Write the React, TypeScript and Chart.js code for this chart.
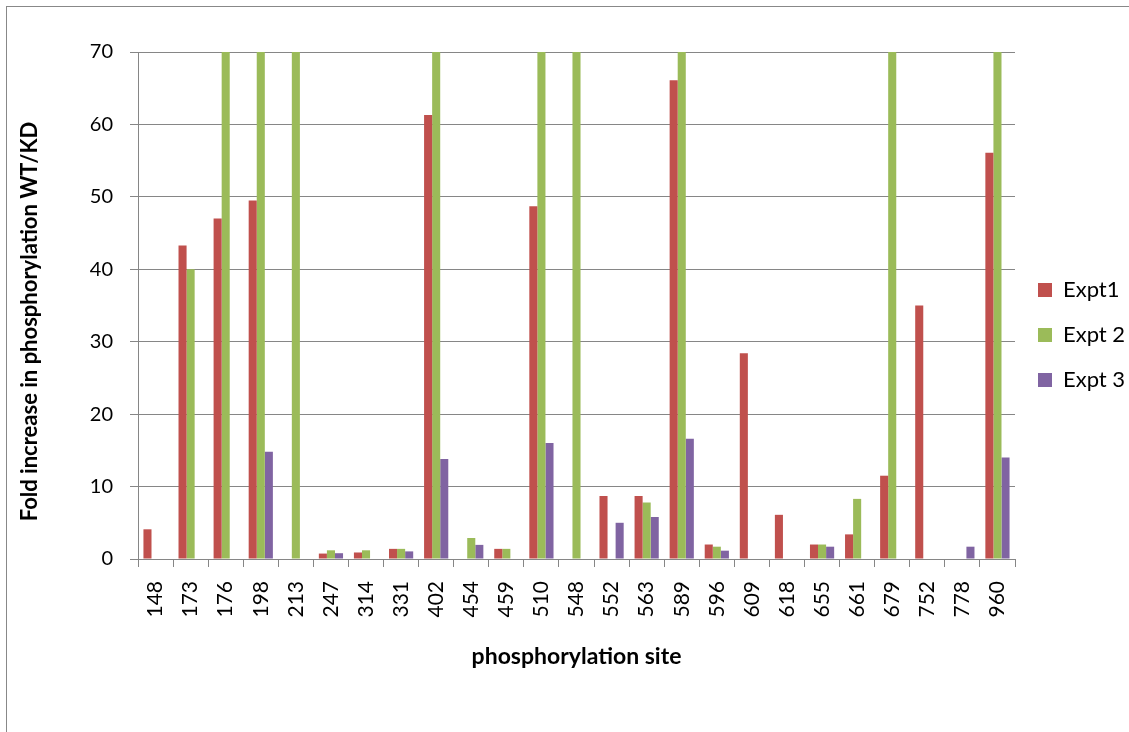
import React, { useEffect, useRef } from "react";
import { Chart, registerables } from "chart.js";

Chart.register(...registerables);

const sites = ["148", "173", "176", "198", "213", "247", "314", "331", "402", "454", "459", "510", "548", "552", "563", "589", "596", "609", "618", "655", "661", "679", "752", "778", "960"];
const expt1 = [4.1, 43.3, 47.0, 49.5, null, 0.75, 0.9, 1.4, 61.3, null, 1.4, 48.7, null, 8.7, 8.7, 66.1, 2.0, 28.4, 6.1, 2.0, 3.4, 11.5, 35.0, null, 56.1];
const expt2 = [null, 40.0, 70, 70, 70, 1.2, 1.2, 1.4, 70, 2.9, 1.4, 70, 70, null, 7.8, 70, 1.7, null, null, 2.0, 8.3, 70, null, null, 70];
const expt3 = [null, null, null, 14.8, null, 0.8, null, 1.05, 13.8, 1.95, null, 16.0, null, 5.0, 5.8, 16.6, 1.15, null, null, 1.7, null, null, null, 1.7, 14.0];
const seriesNames = ["Expt1", "Expt 2", "Expt 3"];
const seriesColors = ["#C0504D", "#9BBB59", "#8064A2"];
const yTicks = [0, 10, 20, 30, 40, 50, 60, 70];

const FONT = "Lato, 'Open Sans', sans-serif";
const GRID = "#868686";

export default function App() {
  const ref = useRef<HTMLCanvasElement | null>(null);
  useEffect(() => {
    if (!ref.current) return;
    const chart = new Chart(ref.current, {
      type: "bar",
      data: {
        labels: sites,
        datasets: [expt1, expt2, expt3].map((d, i) => ({
          label: seriesNames[i],
          data: d,
          backgroundColor: seriesColors[i],
          borderWidth: 0,
          categoryPercentage: 0.69,
          barPercentage: 1,
        })),
      },
      options: {
        animation: false,
        responsive: false,
        maintainAspectRatio: false,
        layout: { padding: 0 },
        plugins: {
          title: {
            display: true,
            text: " ",
            font: { family: FONT, size: 18 },
            padding: { top: 0, bottom: 30.4 },
          },
          tooltip: { enabled: false },
          legend: {
            position: "right",
            align: "center",
            maxWidth: 114,
            labels: {
              boxWidth: 14,
              boxHeight: 14,
              padding: 23,
              color: "#000",
              font: { family: FONT, size: 22 },
            },
          },
        },
        scales: {
          x: {
            grid: {
              display: true,
              drawOnChartArea: false,
              drawTicks: true,
              tickLength: 8,
              color: GRID,
              offset: true,
            },
            border: { color: GRID, width: 1 },
            ticks: {
              autoSkip: false,
              minRotation: 90,
              maxRotation: 90,
              padding: 14,
              color: "#000",
              font: { family: FONT, size: 21 },
            },
            title: {
              display: true,
              text: "phosphorylation site",
              color: "#000",
              font: { family: FONT, size: 23, weight: "bold" },
              padding: { top: 4, bottom: 0 },
            },
            afterFit: (scale: any) => {
              scale.height = 111;
            },
          },
          y: {
            min: 0,
            max: 70,
            afterBuildTicks: (scale: any) => {
              scale.ticks = yTicks.map((v) => ({ value: v }));
            },
            grid: { color: GRID, tickLength: 8, lineWidth: 1 },
            border: { color: GRID, width: 1 },
            ticks: {
              padding: 17,
              color: "#000",
              font: { family: FONT, size: 20 },
            },
            title: {
              display: true,
              text: "Fold increase in phosphorylation WT/KD      ",
              color: "#000",
              font: { family: FONT, size: 22, weight: "bold" },
              padding: { top: 17, bottom: 0 },
            },
            afterFit: (scale: any) => {
              scale.width = 138;
            },
          },
        },
      },
    });
    return () => chart.destroy();
  }, []);

  return (
    <div style={{ position: "fixed", left: 0, top: 0, width: 1129, height: 732, overflow: "hidden", background: "#fff" }}>
      <div style={{ position: "absolute", left: 6, top: 6, width: 1140, height: 740, border: "1px solid #888" }} />
      <canvas ref={ref} width={1129} height={670} style={{ position: "absolute", left: 0, top: 0, width: 1129, height: 670 }} />
    </div>
  );
}
